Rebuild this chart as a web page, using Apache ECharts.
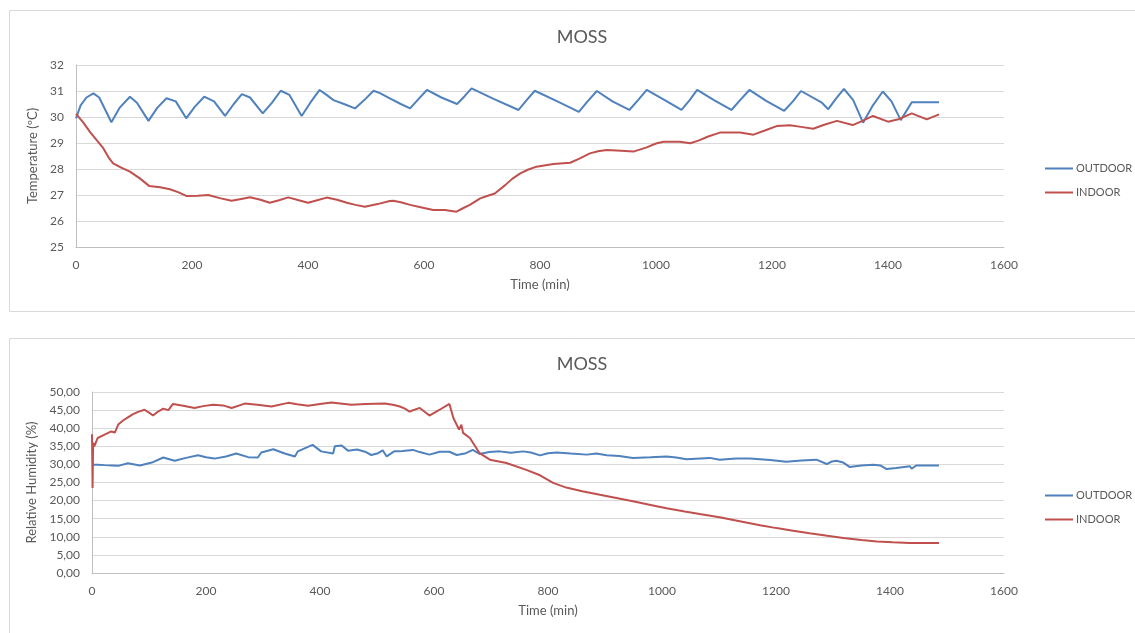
<!DOCTYPE html>
<html>
<head>
<meta charset="utf-8">
<style>
  html, body { margin: 0; padding: 0; background: #ffffff; }
  #chart { width: 1135px; height: 633px; }
</style>
<script src="https://cdn.jsdelivr.net/npm/echarts@6/dist/echarts.min.js"></script>
</head>
<body>
<div id="chart"></div>
<script>
// ---- Temperature (ºC) vs time (min) ----
const tempOutTime = [0, 8, 18, 30, 40, 61, 75, 93, 105, 125, 140, 156, 172, 190, 205, 221, 238, 257, 272, 286, 300, 322, 338, 353, 368, 389, 404, 420, 432, 444, 462, 481, 497, 513, 524, 541, 560, 576, 590, 605, 630, 657, 670, 682, 720, 763, 777, 791, 830, 867, 882, 898, 925, 954, 969, 984, 1015, 1044, 1058, 1071, 1100, 1130, 1145, 1161, 1190, 1221, 1236, 1250, 1286, 1297, 1310, 1324, 1340, 1357, 1374, 1391, 1406, 1422, 1441, 1460, 1488];
const tempOutVal  = [29.95, 30.45, 30.75, 30.91, 30.75, 29.8, 30.35, 30.78, 30.55, 29.85, 30.35, 30.72, 30.6, 29.95, 30.4, 30.78, 30.6, 30.04, 30.5, 30.88, 30.75, 30.14, 30.55, 31.01, 30.85, 30.04, 30.55, 31.04, 30.85, 30.65, 30.5, 30.33, 30.65, 31.01, 30.92, 30.72, 30.5, 30.33, 30.68, 31.04, 30.75, 30.5, 30.8, 31.1, 30.7, 30.27, 30.65, 31.01, 30.6, 30.2, 30.6, 31.0, 30.6, 30.27, 30.65, 31.04, 30.65, 30.27, 30.65, 31.04, 30.65, 30.27, 30.65, 31.04, 30.62, 30.24, 30.6, 31.0, 30.55, 30.3, 30.7, 31.08, 30.65, 29.78, 30.45, 30.98, 30.6, 29.88, 30.57, 30.57, 30.57];

const tempInTime = [0, 12, 24, 36, 47, 56, 64, 78, 93, 110, 126, 145, 162, 177, 191, 210, 228, 248, 268, 285, 300, 318, 334, 350, 366, 384, 400, 416, 432, 450, 467, 482, 498, 520, 541, 547, 560, 576, 596, 616, 636, 656, 668, 679, 697, 710, 722, 740, 752, 766, 780, 794, 823, 852, 868, 886, 900, 915, 940, 961, 984, 1000, 1013, 1041, 1059, 1073, 1090, 1110, 1145, 1168, 1190, 1208, 1231, 1250, 1271, 1290, 1312, 1339, 1356, 1374, 1400, 1418, 1441, 1467, 1488];
const tempInVal  = [30.12, 29.8, 29.43, 29.1, 28.8, 28.45, 28.22, 28.05, 27.9, 27.64, 27.35, 27.3, 27.22, 27.1, 26.96, 26.97, 27.0, 26.88, 26.78, 26.85, 26.91, 26.82, 26.7, 26.8, 26.91, 26.8, 26.7, 26.8, 26.9, 26.82, 26.7, 26.62, 26.55, 26.65, 26.77, 26.78, 26.72, 26.62, 26.52, 26.42, 26.42, 26.36, 26.5, 26.62, 26.87, 26.97, 27.06, 27.38, 27.62, 27.83, 27.98, 28.09, 28.19, 28.24, 28.4, 28.6, 28.68, 28.73, 28.7, 28.67, 28.83, 28.98, 29.05, 29.05, 28.99, 29.09, 29.25, 29.4, 29.4, 29.32, 29.5, 29.65, 29.68, 29.62, 29.55, 29.7, 29.85, 29.69, 29.85, 30.04, 29.82, 29.91, 30.14, 29.91, 30.1];

// ---- Relative humidity (%) vs time (min) ----
const humOutTime = [0, 10, 22, 35, 46, 63, 84, 105, 125, 145, 165, 186, 200, 215, 235, 253, 274, 291, 297, 318, 338, 356, 361, 387, 402, 423, 426, 438, 449, 465, 479, 490, 502, 510, 517, 530, 540, 549, 563, 575, 592, 610, 627, 640, 656, 668, 680, 697, 715, 735, 756, 770, 786, 800, 815, 840, 868, 885, 903, 925, 949, 980, 1008, 1025, 1043, 1084, 1101, 1130, 1154, 1190, 1218, 1245, 1271, 1289, 1298, 1306, 1318, 1329, 1350, 1371, 1383, 1394, 1411, 1435, 1438, 1446, 1486];
const humOutVal  = [29.9, 29.9, 29.8, 29.7, 29.6, 30.3, 29.7, 30.5, 31.9, 31.0, 31.8, 32.5, 32.0, 31.6, 32.2, 33.0, 32.0, 31.9, 33.3, 34.2, 33.0, 32.2, 33.6, 35.4, 33.6, 33.0, 35.0, 35.2, 33.8, 34.1, 33.5, 32.6, 33.1, 33.9, 32.2, 33.6, 33.6, 33.8, 34.0, 33.4, 32.7, 33.5, 33.5, 32.6, 33.1, 34.0, 32.9, 33.4, 33.6, 33.2, 33.6, 33.3, 32.5, 33.1, 33.3, 33.0, 32.7, 33.0, 32.5, 32.3, 31.8, 32.0, 32.2, 31.9, 31.4, 31.8, 31.3, 31.6, 31.6, 31.2, 30.7, 31.1, 31.3, 30.1, 30.8, 31.0, 30.5, 29.3, 29.7, 29.9, 29.7, 28.7, 29.0, 29.5, 28.8, 29.7, 29.7];

const humInTime = [0, 1, 2, 4, 10, 22, 34, 40, 46, 55, 63, 72, 81, 92, 100, 107, 116, 125, 134, 142, 160, 180, 195, 212, 230, 245, 268, 290, 315, 344, 360, 379, 400, 420, 455, 480, 514, 530, 540, 549, 557, 575, 592, 610, 627, 634, 644, 648, 651, 663, 680, 698, 727, 762, 786, 809, 832, 860, 891, 920, 949, 980, 1008, 1040, 1066, 1101, 1143, 1172, 1201, 1230, 1259, 1290, 1318, 1350, 1377, 1405, 1435, 1458, 1486];
const humInVal  = [38.3, 23.5, 36.0, 35.0, 37.3, 38.2, 39.1, 38.8, 41.0, 42.2, 43.0, 43.9, 44.5, 45.1, 44.3, 43.5, 44.6, 45.4, 45.0, 46.7, 46.2, 45.6, 46.1, 46.5, 46.3, 45.6, 46.8, 46.5, 46.0, 47.0, 46.6, 46.2, 46.7, 47.1, 46.5, 46.7, 46.8, 46.4, 46.0, 45.4, 44.6, 45.6, 43.5, 45.1, 46.7, 42.8, 39.6, 41.0, 38.7, 37.3, 33.1, 31.3, 30.4, 28.5, 27.0, 24.9, 23.6, 22.6, 21.6, 20.7, 19.8, 18.8, 17.9, 17.0, 16.3, 15.4, 14.1, 13.2, 12.4, 11.7, 11.0, 10.3, 9.7, 9.1, 8.7, 8.5, 8.3, 8.3, 8.3];

// ---- Axis ticks ----
const timeTicks = { min: 0, max: 1600, interval: 200 };
const tempTicks = { min: 25, max: 32, interval: 1 };
const humTicks  = { min: 0, max: 50, interval: 5 };

const seriesNames = ['OUTDOOR', 'INDOOR'];
const BLUE = '#4f81bd';
const RED = '#c0504d';
const TEXT = '#595959';
const FONT = 'Lato, "Liberation Sans", sans-serif';

function pairs(ts, vs) {
  return ts.map((t, i) => [t, vs[i]]);
}

function xAxisFor(gridIndex) {
  return {
    gridIndex: gridIndex,
    type: 'value',
    min: timeTicks.min, max: timeTicks.max, interval: timeTicks.interval,
    name: 'Time (min)',
    nameLocation: 'middle',
    nameGap: 31,
    nameTextStyle: { color: TEXT, fontSize: 13, fontFamily: FONT },
    axisLine: { show: true, lineStyle: { color: '#bfbfbf', width: 1 } },
    axisTick: { show: false },
    axisLabel: { color: TEXT, fontSize: 12, fontFamily: FONT, margin: 12, formatter: v => String(v) },
    splitLine: { show: false }
  };
}

function yAxisFor(gridIndex, ticks, name, gap, fmt) {
  return {
    gridIndex: gridIndex,
    type: 'value',
    min: ticks.min, max: ticks.max, interval: ticks.interval,
    name: name,
    nameLocation: 'middle',
    nameRotate: 90,
    nameGap: gap,
    nameTextStyle: { color: TEXT, fontSize: 13, fontFamily: FONT },
    axisLine: { show: true, lineStyle: { color: '#bfbfbf', width: 1 } },
    axisTick: { show: false },
    axisLabel: { color: TEXT, fontSize: 12, fontFamily: FONT, margin: 12, formatter: fmt },
    splitLine: { show: true, lineStyle: { color: '#d9d9d9', width: 1 } }
  };
}

function lineSeries(name, color, xi, data) {
  return {
    name: name,
    type: 'line',
    xAxisIndex: xi,
    yAxisIndex: xi,
    data: data,
    symbol: 'none',
    smooth: false,
    lineStyle: { color: color, width: 2 },
    itemStyle: { color: color },
    z: name === 'INDOOR' ? 3 : 2
  };
}

function legendAt(top) {
  return {
    orient: 'vertical',
    left: 1040,
    top: top,
    icon: 'rect',
    itemWidth: 28,
    itemHeight: 2,
    itemGap: 13,
    data: seriesNames,
    textStyle: { color: TEXT, fontSize: 11, fontFamily: FONT, padding: [0, 0, 0, -2] },
    selectedMode: false
  };
}

const chart = echarts.init(document.getElementById('chart'), null, { renderer: 'canvas' });

chart.setOption({
  animation: false,
  backgroundColor: '#ffffff',
  graphic: [
    { type: 'rect', shape: { x: 9.5, y: 10.5, width: 1140, height: 301 }, style: { fill: 'none', stroke: '#d9d9d9', lineWidth: 1 }, silent: true, z: -10 },
    { type: 'rect', shape: { x: 9.5, y: 338.5, width: 1140, height: 320 }, style: { fill: 'none', stroke: '#d9d9d9', lineWidth: 1 }, silent: true, z: -10 }
  ],
  title: [
    { text: 'MOSS', left: 577, top: 23, textAlign: 'center', textStyle: { color: TEXT, fontSize: 18, fontWeight: 'normal', fontFamily: FONT } },
    { text: 'MOSS', left: 577, top: 350, textAlign: 'center', textStyle: { color: TEXT, fontSize: 18, fontWeight: 'normal', fontFamily: FONT } }
  ],
  legend: [legendAt(158), legendAt(485)],
  grid: [
    { left: 76, right: 131, top: 65, height: 182 },
    { left: 92, right: 131, top: 392, height: 181 }
  ],
  xAxis: [xAxisFor(0), xAxisFor(1)],
  yAxis: [
    yAxisFor(0, tempTicks, 'Temperature (ºC)', 31, v => String(v)),
    yAxisFor(1, humTicks, 'Relative Humidity (%)', 47, v => v.toFixed(2).replace('.', ','))
  ],
  series: [
    lineSeries('OUTDOOR', BLUE, 0, pairs(tempOutTime, tempOutVal)),
    lineSeries('INDOOR', RED, 0, pairs(tempInTime, tempInVal)),
    lineSeries('OUTDOOR', BLUE, 1, pairs(humOutTime, humOutVal)),
    lineSeries('INDOOR', RED, 1, pairs(humInTime, humInVal))
  ]
});
</script>
</body>
</html>
